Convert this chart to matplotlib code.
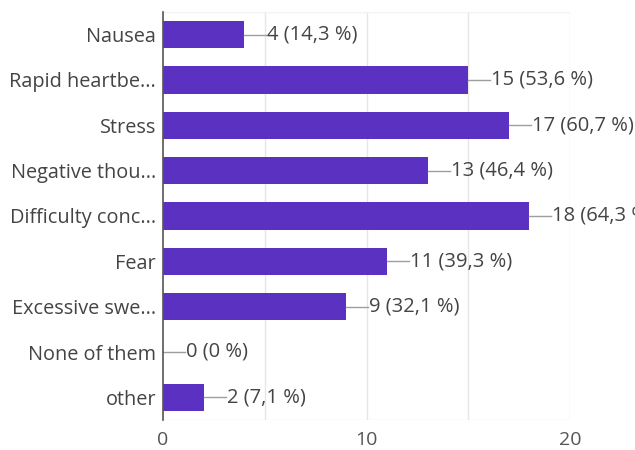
import matplotlib
matplotlib.use("Agg")
import matplotlib.pyplot as plt

categories = ["Nausea", "Rapid heartbe...", "Stress", "Negative thou...", "Difficulty conc...",
              "Fear", "Excessive swe...", "None of them", "other"]
counts = [4, 15, 17, 13, 18, 11, 9, 0, 2]
labels = ["4 (14,3 %)", "15 (53,6 %)", "17 (60,7 %)", "13 (46,4 %)", "18 (64,3 %)",
          "11 (39,3 %)", "9 (32,1 %)", "0 (0 %)", "2 (7,1 %)"]
xticks = [0, 10, 20]
grid_x = [5, 10, 15, 20]

plt.rcParams['font.family'] = ['Open Sans', 'DejaVu Sans']

fig = plt.figure(figsize=(6.35, 4.5), dpi=100)
ax = fig.add_axes([163/635, 1 - 420/450, (570-163)/635, (420-12)/450])

bar_color = "#5b31c2"
y = list(range(len(categories)))
ax.barh(y, counts, height=0.6, color=bar_color, zorder=3)

for yi, v, lab in zip(y, counts, labels):
    ax.plot([v, v + 1.08], [yi, yi], color="#9e9e9e", lw=1.0, zorder=3, clip_on=False)
    ax.text(v + 1.13, yi, lab, va="center", ha="left", fontsize=14.5, color="#444444",
            zorder=4, clip_on=False)

ax.set_xlim(0, 20)
ax.set_ylim(len(categories) - 0.5, -0.5)
ax.set_yticks(y)
ax.set_yticklabels(categories, fontsize=14.3, color="#444444")
ax.set_xticks(xticks)
ax.set_xticklabels([str(t) for t in xticks], fontsize=14, color="#555555")
for gx in grid_x:
    ax.axvline(gx, color="#e6e6e6", lw=1.0, zorder=1)
ax.axhline(len(categories) - 0.5, color="#eeeeee", lw=1.0, zorder=1)
ax.axhline(-0.5, color="#f2f2f2", lw=1.0, zorder=1)

for s in ["top", "right", "bottom"]:
    ax.spines[s].set_visible(False)
ax.spines["left"].set_color("#555555")
ax.spines["left"].set_linewidth(1.2)
ax.spines["left"].set_zorder(5)
ax.tick_params(axis="both", length=0)
ax.tick_params(axis="y", pad=5)
ax.tick_params(axis="x", pad=8)

fig.savefig("out.png", dpi=100)
